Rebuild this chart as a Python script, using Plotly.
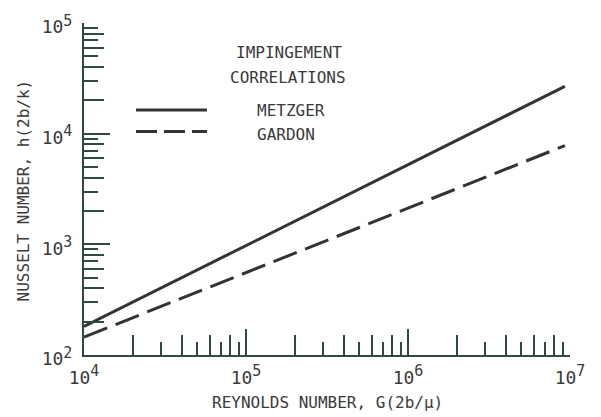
import plotly.graph_objects as go

# ---- data ----
reynolds = [1.0e4, 9.3e6]          # G(2b/mu)
metzger = [181, 26800]             # Nusselt, solid
gardon = [145, 7800]               # Nusselt, dashed

x_decades = [1e4, 1e5, 1e6, 1e7]
y_decades = [1e2, 1e3, 1e4, 1e5]
x_exponents = ["4", "5", "6", "7"]
y_exponents = ["2", "3", "4", "5"]
long_mult = [2, 4, 6, 8]
short_mult = [3, 5, 7, 9]

SUP = "10<sup><span style='font-size:15px'>{}</span></sup>"
x_ticktext = [SUP.format(e) for e in x_exponents]
y_ticktext = [SUP.format(e) for e in y_exponents]

x_long = [d * m for d in x_decades[:-1] for m in long_mult]
x_short = [d * m for d in x_decades[:-1] for m in short_mult]
y_long = [d * m for d in y_decades[:-1] for m in long_mult]
y_short = [d * m for d in y_decades[:-1] for m in short_mult]

FONT = "DejaVu Sans Mono"
TXT = "#3a3a3a"
AX = "#2f4a42"
LINE = "#333333"

fig = go.Figure()
fig.add_trace(go.Scatter(x=reynolds, y=metzger, mode="lines", name="METZGER",
                         line=dict(color=LINE, width=3), showlegend=False))
fig.add_trace(go.Scatter(x=reynolds, y=gardon, mode="lines", name="GARDON",
                         line=dict(color=LINE, width=3, dash="25px,9px"), showlegend=False))
# helper trace so the overlay (short-tick) axes are drawn
fig.add_trace(go.Scatter(x=[1e5], y=[1e3], xaxis="x2", yaxis="y2", mode="markers",
                         marker=dict(opacity=0), showlegend=False, hoverinfo="skip"))

common = dict(type="log", showgrid=False, zeroline=False, ticks="inside",
              tickcolor=AX, tickwidth=1.6)

fig.update_layout(
    width=601, height=417,
    margin=dict(l=84, r=31, t=19, b=62),
    paper_bgcolor="white", plot_bgcolor="white",
    font=dict(family=FONT, color=TXT, size=16),
    xaxis=dict(**common, range=[4, 7], tickmode="array", tickvals=x_decades,
               ticktext=x_ticktext, ticklen=26, showline=True, linecolor=AX,
               linewidth=2, tickfont=dict(size=18, color=TXT), ticklabelstandoff=5,
               minor=dict(tickvals=x_long, ticks="inside", ticklen=20,
                          tickcolor=AX, tickwidth=1.6)),
    yaxis=dict(**common, range=[2, 5], tickmode="array", tickvals=y_decades,
               ticktext=y_ticktext, ticklen=26, showline=True, linecolor=AX,
               linewidth=2, tickfont=dict(size=18, color=TXT), ticklabelstandoff=6,
               ticklabelshift=4,
               minor=dict(tickvals=y_long, ticks="inside", ticklen=20,
                          tickcolor=AX, tickwidth=1.6)),
    xaxis2=dict(**common, range=[4, 7], overlaying="x", anchor="y", side="bottom",
                tickmode="array", tickvals=x_short, ticklen=13,
                showticklabels=False, showline=False),
    yaxis2=dict(**common, range=[2, 5], overlaying="y", anchor="x", side="left",
                tickmode="array", tickvals=y_short, ticklen=14,
                showticklabels=False, showline=False),
)

# axis titles
fig.add_annotation(text="REYNOLDS NUMBER, G(2b/μ)", xref="paper", yref="paper",
                   x=0.502, y=-0.143, showarrow=False, font=dict(size=16, color=TXT),
                   xanchor="center", yanchor="middle")
fig.add_annotation(text="NUSSELT NUMBER, h(2b/k)", xref="paper", yref="paper",
                   x=-0.124, y=0.495, showarrow=False, textangle=-90,
                   font=dict(size=16, color=TXT), xanchor="center", yanchor="middle")

# legend block
fig.add_annotation(text="IMPINGEMENT", xref="paper", yref="paper", x=0.421, y=0.91,
                   showarrow=False, xanchor="center", yanchor="middle")
fig.add_annotation(text="CORRELATIONS", xref="paper", yref="paper", x=0.420, y=0.836,
                   showarrow=False, xanchor="center", yanchor="middle")
fig.add_annotation(text="METZGER", xref="paper", yref="paper", x=0.352, y=0.735,
                   showarrow=False, xanchor="left", yanchor="middle")
fig.add_annotation(text="GARDON", xref="paper", yref="paper", x=0.352, y=0.664,
                   showarrow=False, xanchor="left", yanchor="middle")
fig.add_shape(type="line", xref="paper", yref="paper", x0=0.107, x1=0.253,
              y0=0.738, y1=0.738, line=dict(color=LINE, width=3))
fig.add_shape(type="line", xref="paper", yref="paper", x0=0.107, x1=0.253,
              y0=0.673, y1=0.673, line=dict(color=LINE, width=3, dash="21px,7px"))

fig.write_html("out.html")
